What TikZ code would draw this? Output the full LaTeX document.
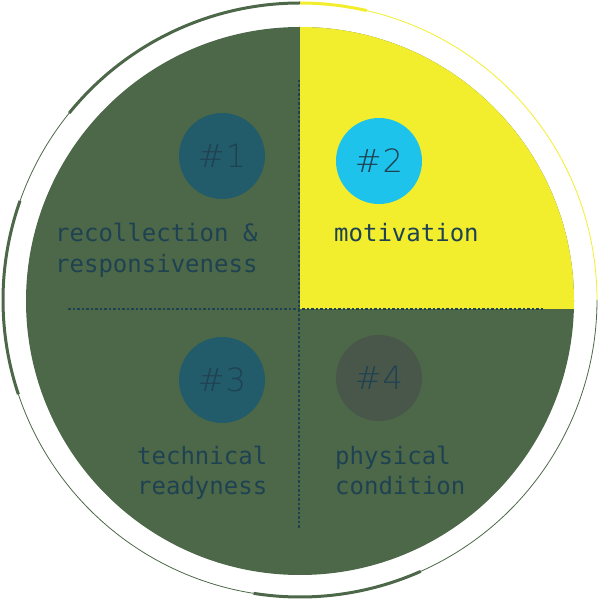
\documentclass[tikz,border=0pt]{standalone}
\usepackage{fontspec}
\newfontfamily\labelfont{DejaVu Sans Mono}
\newfontfamily\hashfont{DejaVu Sans ExtraLight}
\definecolor{dgreen}{HTML}{4C6848}
\definecolor{yel}{HTML}{F2EE2D}
\definecolor{cyanc}{HTML}{1EC3EC}
\definecolor{tealc}{HTML}{225C6B}
\definecolor{grayc}{HTML}{49574A}
\definecolor{inkc}{HTML}{1F4252}
\tikzset{
  thinring/.style={line width=0.8pt},
  thickring/.style={line width=3pt},
  dotline/.style={draw=inkc, line width=1.7pt, dash pattern=on 2.5pt off 2pt},
  badge/.style={circle, minimum size=86pt, inner sep=0pt, text=inkc,
    font=\hashfont\fontsize{32}{32}\selectfont},
  lbl/.style={anchor=base west, inner sep=0pt, text=inkc,
    font=\labelfont\fontsize{24}{31}\selectfont},
}
\begin{document}
\begin{tikzpicture}[x=1pt,y=1pt]
\useasboundingbox (0,0) rectangle (600,600);
% outer ring
\coordinate (c) at (300,300);
\draw[thinring, yel] ([shift={(0:297)}]c) arc (0:77:297);
\draw[thickring, yel] ([shift={(77:297)}]c) arc (77:90:297);
\draw[thickring, dgreen] ([shift={(90:297)}]c) arc (90:141:297);
\draw[thinring, dgreen] ([shift={(141:297)}]c) arc (141:160.5:297);
\draw[thickring, dgreen] ([shift={(160.5:297)}]c) arc (160.5:198.5:297);
\draw[thinring, dgreen] ([shift={(198.5:297)}]c) arc (198.5:261:297);
\draw[thickring, dgreen] ([shift={(261:297)}]c) arc (261:294:297);
\draw[thinring, dgreen] ([shift={(294:297)}]c) arc (294:360:297);
% inner disk
\coordinate (d) at (300,299);
\fill[dgreen] (d) circle (274);
\begin{scope}
  \clip (d) circle (274);
  \fill[yel] (300,291) rectangle (600,600);
\end{scope}
% dotted dividers
\coordinate (vtop) at (299,520);
\coordinate (vbot) at (299,72);
\coordinate (hl) at (68,291);
\coordinate (hr) at (543,291);
\draw[dotline] (vtop) -- (vbot);
\draw[dotline] (hl) -- (hr);
% badges
\node[badge, fill=tealc] (b1) at (222,444) {\#\hspace{1pt}1};
\node[badge, fill=cyanc] (b2) at (379,439) {\#\hspace{1pt}2};
\node[badge, fill=tealc] (b3) at (222,220) {\#\hspace{1pt}3};
\node[badge, fill=grayc] (b4) at (379,222) {\#\hspace{1pt}4};
% labels
\node[lbl] (l1a) at (55,358) {recollection \&};
\node[lbl] (l1b) at (55,327) {responsiveness};
\node[lbl] (l2a) at (334,358) {motivation};
\node[lbl] (l3a) at (137,135) {technical};
\node[lbl] (l3b) at (137,105) {readyness};
\node[lbl] (l4a) at (335,135) {physical};
\node[lbl] (l4b) at (335,105) {condition};
\end{tikzpicture}
\end{document}
